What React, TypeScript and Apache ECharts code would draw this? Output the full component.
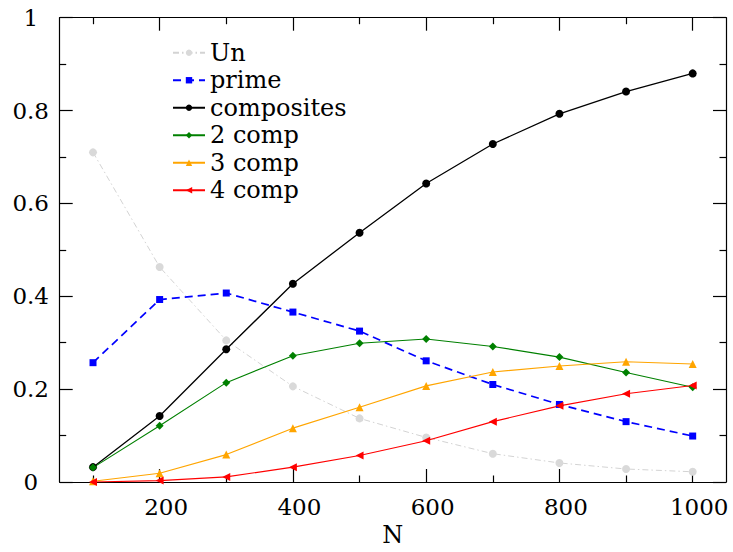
import React, { useEffect, useRef } from "react";
import * as echarts from "echarts";

const N_VALUES = [100, 200, 300, 400, 500, 600, 700, 800, 900, 1000];
const UN = [0.71, 0.463, 0.305, 0.206, 0.137, 0.096, 0.061, 0.041, 0.028, 0.022];
const PRIME = [0.257, 0.393, 0.407, 0.366, 0.325, 0.261, 0.21, 0.167, 0.13, 0.099];
const COMPOSITES = [0.032, 0.142, 0.286, 0.427, 0.537, 0.643, 0.728, 0.793, 0.841, 0.88];
const COMP2 = [0.031, 0.121, 0.214, 0.272, 0.299, 0.308, 0.292, 0.269, 0.236, 0.204];
const COMP3 = [0.0015, 0.019, 0.059, 0.116, 0.161, 0.207, 0.237, 0.25, 0.259, 0.254];
const COMP4 = [0.0, 0.003, 0.011, 0.032, 0.057, 0.089, 0.13, 0.164, 0.19, 0.208];
const X_MAJOR_TICKS = [200, 400, 600, 800, 1000];
const X_MINOR_TICKS = [100, 300, 500, 700, 900];

const FONT = "DejaVu Serif";
const FS_TICK = 23;
const FS_TEXT = 24;

const pairs = (ys: number[]) => N_VALUES.map((x, i) => [x, ys[i]]);

export default function App() {
  const ref = useRef<HTMLDivElement>(null);
  useEffect(() => {
    if (!ref.current) return;
    const chart = echarts.init(ref.current, undefined, { renderer: "svg" });
    const lineBlack = { color: "#000", width: 1.2 };
    const xBase = { type: "value", min: 50, max: 1050, splitLine: { show: false } };
    const option: any = {
      animation: false,
      backgroundColor: "#fff",
      textStyle: { fontFamily: FONT },
      grid: { left: 59.7, right: 7, top: 17.7, bottom: 67.7, containLabel: false },
      legend: {
        orient: "vertical",
        left: 167,
        top: 34,
        itemWidth: 32,
        itemHeight: 8,
        itemGap: 0,
        textStyle: { fontFamily: FONT, fontSize: FS_TEXT, color: "#000", lineHeight: 27.5 },
        data: ["Un", "prime", "composites", "2 comp", "3 comp", "4 comp"],
      },
      xAxis: [
        {
          ...xBase,
          position: "bottom",
          name: "N",
          nameLocation: "middle",
          nameGap: 41,
          nameTextStyle: { fontFamily: FONT, fontSize: FS_TEXT, color: "#000" },
          axisLine: { show: true, lineStyle: lineBlack },
          axisTick: { show: true, inside: true, length: 13, customValues: X_MAJOR_TICKS, lineStyle: lineBlack },
          axisLabel: {
            show: true,
            customValues: X_MAJOR_TICKS,
            formatter: (v: number) => String(v),
            fontFamily: FONT,
            fontSize: FS_TICK,
            color: "#000",
            margin: 13,
            padding: [0, 0, 0, 13],
          },
        },
        {
          ...xBase,
          position: "bottom",
          axisLine: { show: false },
          axisTick: { show: true, inside: true, length: 6.5, customValues: X_MINOR_TICKS, lineStyle: lineBlack },
          axisLabel: { show: false },
        },
        {
          ...xBase,
          position: "top",
          axisLine: { show: true, lineStyle: lineBlack },
          axisTick: { show: true, inside: true, length: 13, customValues: X_MAJOR_TICKS, lineStyle: lineBlack },
          axisLabel: { show: false },
        },
        {
          ...xBase,
          position: "top",
          axisLine: { show: false },
          axisTick: { show: true, inside: true, length: 6.5, customValues: X_MINOR_TICKS, lineStyle: lineBlack },
          axisLabel: { show: false },
        },
      ],
      yAxis: [
        {
          type: "value",
          min: 0,
          max: 1,
          interval: 0.2,
          position: "left",
          splitLine: { show: false },
          axisLine: { show: true, lineStyle: lineBlack },
          axisTick: { show: true, inside: true, length: 13, lineStyle: lineBlack },
          minorTick: { show: true, splitNumber: 2, length: 6.5, lineStyle: lineBlack },
          axisLabel: {
            fontFamily: FONT,
            fontSize: FS_TICK,
            color: "#000",
            align: "center",
            margin: 29,
          },
        },
        {
          type: "value",
          min: 0,
          max: 1,
          interval: 0.2,
          position: "right",
          splitLine: { show: false },
          axisLine: { show: true, lineStyle: lineBlack },
          axisTick: { show: true, inside: true, length: 13, lineStyle: lineBlack },
          minorTick: { show: true, splitNumber: 2, length: 6.5, lineStyle: lineBlack },
          axisLabel: { show: false },
        },
      ],
      series: [
        {
          name: "Un",
          type: "line",
          data: pairs(UN),
          symbol: "circle",
          symbolSize: 8,
          itemStyle: { color: "#d9d9d9" },
          lineStyle: { color: "#d3d3d3", width: 1, type: [6, 3, 1.5, 3] },
        },
        {
          name: "prime",
          type: "line",
          data: pairs(PRIME),
          symbol: "rect",
          symbolSize: 7,
          itemStyle: { color: "#0000ff" },
          lineStyle: { color: "#0000ff", width: 1.7, type: [8, 5] },
        },
        {
          name: "composites",
          type: "line",
          data: pairs(COMPOSITES),
          symbol: "circle",
          symbolSize: 8,
          itemStyle: { color: "#000" },
          lineStyle: { color: "#000", width: 1.3 },
        },
        {
          name: "2 comp",
          type: "line",
          data: pairs(COMP2),
          symbol: "diamond",
          symbolSize: 8,
          itemStyle: { color: "#008000" },
          lineStyle: { color: "#008000", width: 1.1 },
        },
        {
          name: "3 comp",
          type: "line",
          data: pairs(COMP3),
          symbol: "triangle",
          symbolSize: 8,
          itemStyle: { color: "#ffa500" },
          lineStyle: { color: "#ffa500", width: 1.1 },
        },
        {
          name: "4 comp",
          type: "line",
          data: pairs(COMP4),
          symbol: "triangle",
          symbolRotate: 90,
          symbolSize: 8,
          itemStyle: { color: "#ff0000" },
          lineStyle: { color: "#ff0000", width: 1.1 },
        },
      ],
    };
    chart.setOption(option);
    return () => chart.dispose();
  }, []);
  return (
    <div
      ref={ref}
      style={{ position: "absolute", left: 0, top: 0, width: 733, height: 552, background: "#fff" }}
    />
  );
}
